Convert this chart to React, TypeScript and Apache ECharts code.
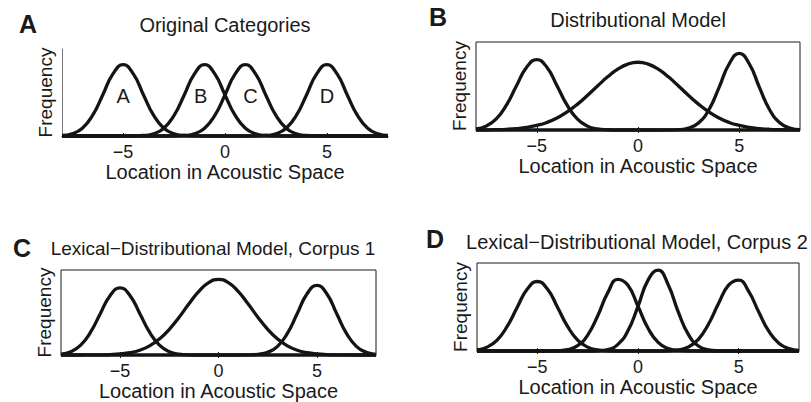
import { useEffect, useRef } from 'react';
import * as echarts from 'echarts';

// Sample locations along the acoustic dimension (x)
const locations = [
  -8, -7.5, -7, -6.5, -6, -5.5, -5, -4.5, -4, -3.5, -3, -2.5, -2, -1.5, -1, -0.5,
  0, 0.5, 1, 1.5, 2, 2.5, 3, 3.5, 4, 4.5, 5, 5.5, 6, 6.5, 7, 7.5, 8,
];
const tickValues = [-5, 0, 5];
const xAxisName = 'Location in Acoustic Space';
const yAxisName = 'Frequency';
const panelLetters = ['A', 'B', 'C', 'D'];
const panelTitles = [
  'Original Categories',
  'Distributional Model',
  'Lexical\u2212Distributional Model, Corpus 1',
  'Lexical\u2212Distributional Model, Corpus 2',
];

// Panel A: original categories
const origA = [0.006, 0.026, 0.089, 0.236, 0.472, 0.714, 0.82, 0.714, 0.472, 0.236, 0.089, 0.026, 0.006, 0.001, 0, 0, 0, 0, 0, 0, 0, 0, 0, 0, 0, 0, 0, 0, 0, 0, 0, 0, 0];
const origB = [0, 0, 0, 0, 0, 0, 0, 0.001, 0.006, 0.026, 0.089, 0.236, 0.472, 0.714, 0.82, 0.714, 0.472, 0.236, 0.089, 0.026, 0.006, 0.001, 0, 0, 0, 0, 0, 0, 0, 0, 0, 0, 0];
const origC = [0, 0, 0, 0, 0, 0, 0, 0, 0, 0, 0, 0.001, 0.006, 0.026, 0.089, 0.236, 0.472, 0.714, 0.82, 0.714, 0.472, 0.236, 0.089, 0.026, 0.006, 0.001, 0, 0, 0, 0, 0, 0, 0];
const origD = [0, 0, 0, 0, 0, 0, 0, 0, 0, 0, 0, 0, 0, 0, 0, 0, 0, 0, 0, 0.001, 0.006, 0.026, 0.089, 0.236, 0.472, 0.714, 0.82, 0.714, 0.472, 0.236, 0.089, 0.026, 0.006];
const categoryLabels = ['A', 'B', 'C', 'D'];
const categoryLabelX = [-5, -1.2, 1.25, 5];
const categoryLabelY = [0.46, 0.46, 0.46, 0.46];

// Panel B: distributional model
const distLeft = [0.012, 0.044, 0.126, 0.282, 0.503, 0.713, 0.8, 0.713, 0.503, 0.282, 0.126, 0.044, 0.012, 0.003, 0, 0, 0, 0, 0, 0, 0, 0, 0, 0, 0, 0, 0, 0, 0, 0, 0, 0, 0];
const distCenter = [0.001, 0.002, 0.004, 0.008, 0.016, 0.029, 0.052, 0.086, 0.136, 0.205, 0.291, 0.392, 0.5, 0.604, 0.691, 0.749, 0.77, 0.749, 0.691, 0.604, 0.5, 0.392, 0.291, 0.205, 0.136, 0.086, 0.052, 0.029, 0.016, 0.008, 0.004, 0.002, 0.001];
const distRight = [0, 0, 0, 0, 0, 0, 0, 0, 0, 0, 0, 0, 0, 0, 0, 0, 0, 0, 0, 0.001, 0.004, 0.022, 0.082, 0.23, 0.482, 0.75, 0.87, 0.75, 0.482, 0.23, 0.082, 0.022, 0.004];

// Panel C: lexical-distributional model, corpus 1
const lex1Left = [0.01, 0.039, 0.116, 0.268, 0.489, 0.701, 0.79, 0.701, 0.489, 0.268, 0.116, 0.039, 0.01, 0.002, 0, 0, 0, 0, 0, 0, 0, 0, 0, 0, 0, 0, 0, 0, 0, 0, 0, 0, 0];
const lex1Center = [0, 0, 0, 0.001, 0.002, 0.005, 0.012, 0.027, 0.056, 0.107, 0.188, 0.302, 0.445, 0.603, 0.749, 0.852, 0.89, 0.852, 0.749, 0.603, 0.445, 0.302, 0.188, 0.107, 0.056, 0.027, 0.012, 0.005, 0.002, 0.001, 0, 0, 0];
const lex1Right = [0, 0, 0, 0, 0, 0, 0, 0, 0, 0, 0, 0, 0, 0, 0, 0, 0, 0, 0, 0.001, 0.008, 0.032, 0.102, 0.254, 0.487, 0.72, 0.82, 0.72, 0.487, 0.254, 0.102, 0.032, 0.008];

// Panel D: lexical-distributional model, corpus 2
const lex2First = [0.012, 0.044, 0.124, 0.279, 0.498, 0.704, 0.79, 0.704, 0.498, 0.279, 0.124, 0.044, 0.012, 0.003, 0, 0, 0, 0, 0, 0, 0, 0, 0, 0, 0, 0, 0, 0, 0, 0, 0, 0, 0];
const lex2Second = [0, 0, 0, 0, 0, 0, 0, 0, 0.003, 0.015, 0.061, 0.181, 0.401, 0.663, 0.815, 0.746, 0.508, 0.258, 0.097, 0.027, 0.006, 0.001, 0, 0, 0, 0, 0, 0, 0, 0, 0, 0, 0];
const lex2Third = [0, 0, 0, 0, 0, 0, 0, 0, 0, 0, 0, 0, 0.003, 0.017, 0.075, 0.229, 0.507, 0.805, 0.918, 0.753, 0.444, 0.188, 0.057, 0.013, 0.002, 0, 0, 0, 0, 0, 0, 0, 0];
const lex2Fourth = [0, 0, 0, 0, 0, 0, 0, 0, 0, 0, 0, 0, 0, 0, 0, 0, 0, 0, 0, 0.003, 0.012, 0.045, 0.133, 0.304, 0.54, 0.748, 0.806, 0.677, 0.442, 0.225, 0.089, 0.028, 0.007];

const panelCurves = [
  [origA, origB, origC, origD],
  [distLeft, distCenter, distRight],
  [lex1Left, lex1Center, lex1Right],
  [lex2First, lex2Second, lex2Third, lex2Fourth],
];

const FONT = '"Liberation Sans", Arial, Helvetica, sans-serif';
const INK = '#1a1a1a';

// layout (pixels)
const layouts = [
  { left: 62, top: 49, width: 326, height: 87, box: false, titleX: 225, titleY: 25, titleSize: 20, letterX: 28, letterY: 24 },
  { left: 476, top: 42, width: 324, height: 88, box: true, titleX: 638, titleY: 20, titleSize: 20, letterX: 438, letterY: 17 },
  { left: 61, top: 270, width: 315, height: 85, box: true, titleX: 213, titleY: 248, titleSize: 19, letterX: 22, letterY: 248 },
  { left: 477, top: 263, width: 322, height: 88, box: true, titleX: 637, titleY: 242, titleSize: 20, letterX: 435, letterY: 239 },
];

function buildOption() {
  const grid: any[] = [];
  const xAxis: any[] = [];
  const yAxis: any[] = [];
  const series: any[] = [];
  const title: any[] = [];
  const fmt = (v: number) => String(v).replace('-', '\u2212');

  layouts.forEach((L, i) => {
    grid.push({
      left: L.left,
      top: L.top,
      width: L.width,
      height: L.height,
      show: L.box,
      borderColor: INK,
      borderWidth: 1,
      backgroundColor: 'transparent',
    });
    const bottomIndex = xAxis.length;
    xAxis.push({
      gridIndex: i,
      type: 'value',
      min: -8,
      max: 8,
      position: 'bottom',
      axisLine: { show: true, onZero: false, lineStyle: { color: INK, width: 1 } },
      axisTick: { show: true, inside: true, length: 3, customValues: tickValues, lineStyle: { color: INK, width: 1 } },
      axisLabel: {
        show: true,
        customValues: tickValues,
        margin: 16,
        verticalAlign: 'middle',
        fontSize: 18,
        fontFamily: FONT,
        color: INK,
        formatter: fmt,
      },
      splitLine: { show: false },
      name: xAxisName,
      nameLocation: 'middle',
      nameGap: 33,
      nameTextStyle: { fontSize: 20, fontFamily: FONT, color: INK, verticalAlign: 'middle' },
    });
    if (L.box) {
      xAxis.push({
        gridIndex: i,
        type: 'value',
        min: -8,
        max: 8,
        position: 'top',
        axisLine: { show: false },
        axisTick: { show: true, inside: true, length: 3, customValues: tickValues, lineStyle: { color: INK, width: 1 } },
        axisLabel: { show: false, customValues: tickValues },
        splitLine: { show: false },
      });
    }
    yAxis.push({
      gridIndex: i,
      type: 'value',
      min: 0,
      max: 1,
      axisLine: { show: !L.box, onZero: false, lineStyle: { color: '#777', width: 1 } },
      axisTick: { show: false },
      axisLabel: { show: false },
      splitLine: { show: false },
      name: yAxisName,
      nameLocation: 'middle',
      nameGap: 17,
      nameTextStyle: { fontSize: 19, fontFamily: FONT, color: INK, verticalAlign: 'middle' },
    });
    panelCurves[i].forEach((ys) => {
      series.push({
        type: 'line',
        xAxisIndex: bottomIndex,
        yAxisIndex: i,
        data: locations.map((x, k) => [x, ys[k]]),
        smooth: true,
        showSymbol: false,
        symbol: 'none',
        clip: false,
        silent: true,
        lineStyle: { color: '#141414', width: 3.3 },
        z: 3,
      });
    });
    if (i === 0) {
      series.push({
        type: 'scatter',
        xAxisIndex: bottomIndex,
        yAxisIndex: 0,
        symbolSize: 0,
        itemStyle: { color: '#ffffff', opacity: 1 },
        silent: true,
        emphasis: { disabled: true },
        data: categoryLabels.map((n, k) => ({ name: n, value: [categoryLabelX[k], categoryLabelY[k]] })),
        label: {
          show: true,
          position: [0, 0],
          align: 'center',
          verticalAlign: 'middle',
          formatter: '{b}',
          fontSize: 20,
          fontFamily: FONT,
          color: INK,
          opacity: 1,
          textBorderWidth: 0,
        },
        z: 4,
      });
    }
    title.push({
      text: panelTitles[i],
      left: L.titleX,
      top: L.titleY,
      padding: 0,
      textAlign: 'center',
      textVerticalAlign: 'middle',
      textStyle: { fontSize: L.titleSize, fontWeight: 'normal', fontFamily: FONT, color: INK },
    });
    title.push({
      text: panelLetters[i],
      left: L.letterX,
      top: L.letterY,
      padding: 0,
      textAlign: 'center',
      textVerticalAlign: 'middle',
      textStyle: { fontSize: 25, fontWeight: 'bold', fontFamily: FONT, color: INK },
    });
  });

  return {
    animation: false,
    backgroundColor: '#ffffff',
    title,
    grid,
    xAxis,
    yAxis,
    series,
  };
}

export default function App() {
  const ref = useRef<HTMLDivElement>(null);
  useEffect(() => {
    if (!ref.current) return;
    const chart = echarts.init(ref.current, undefined, { renderer: 'svg' });
    chart.setOption(buildOption() as any);
    return () => chart.dispose();
  }, []);
  return (
    <div
      ref={ref}
      style={{ position: 'fixed', left: 0, top: 0, width: 811, height: 402, background: '#fff' }}
    />
  );
}
